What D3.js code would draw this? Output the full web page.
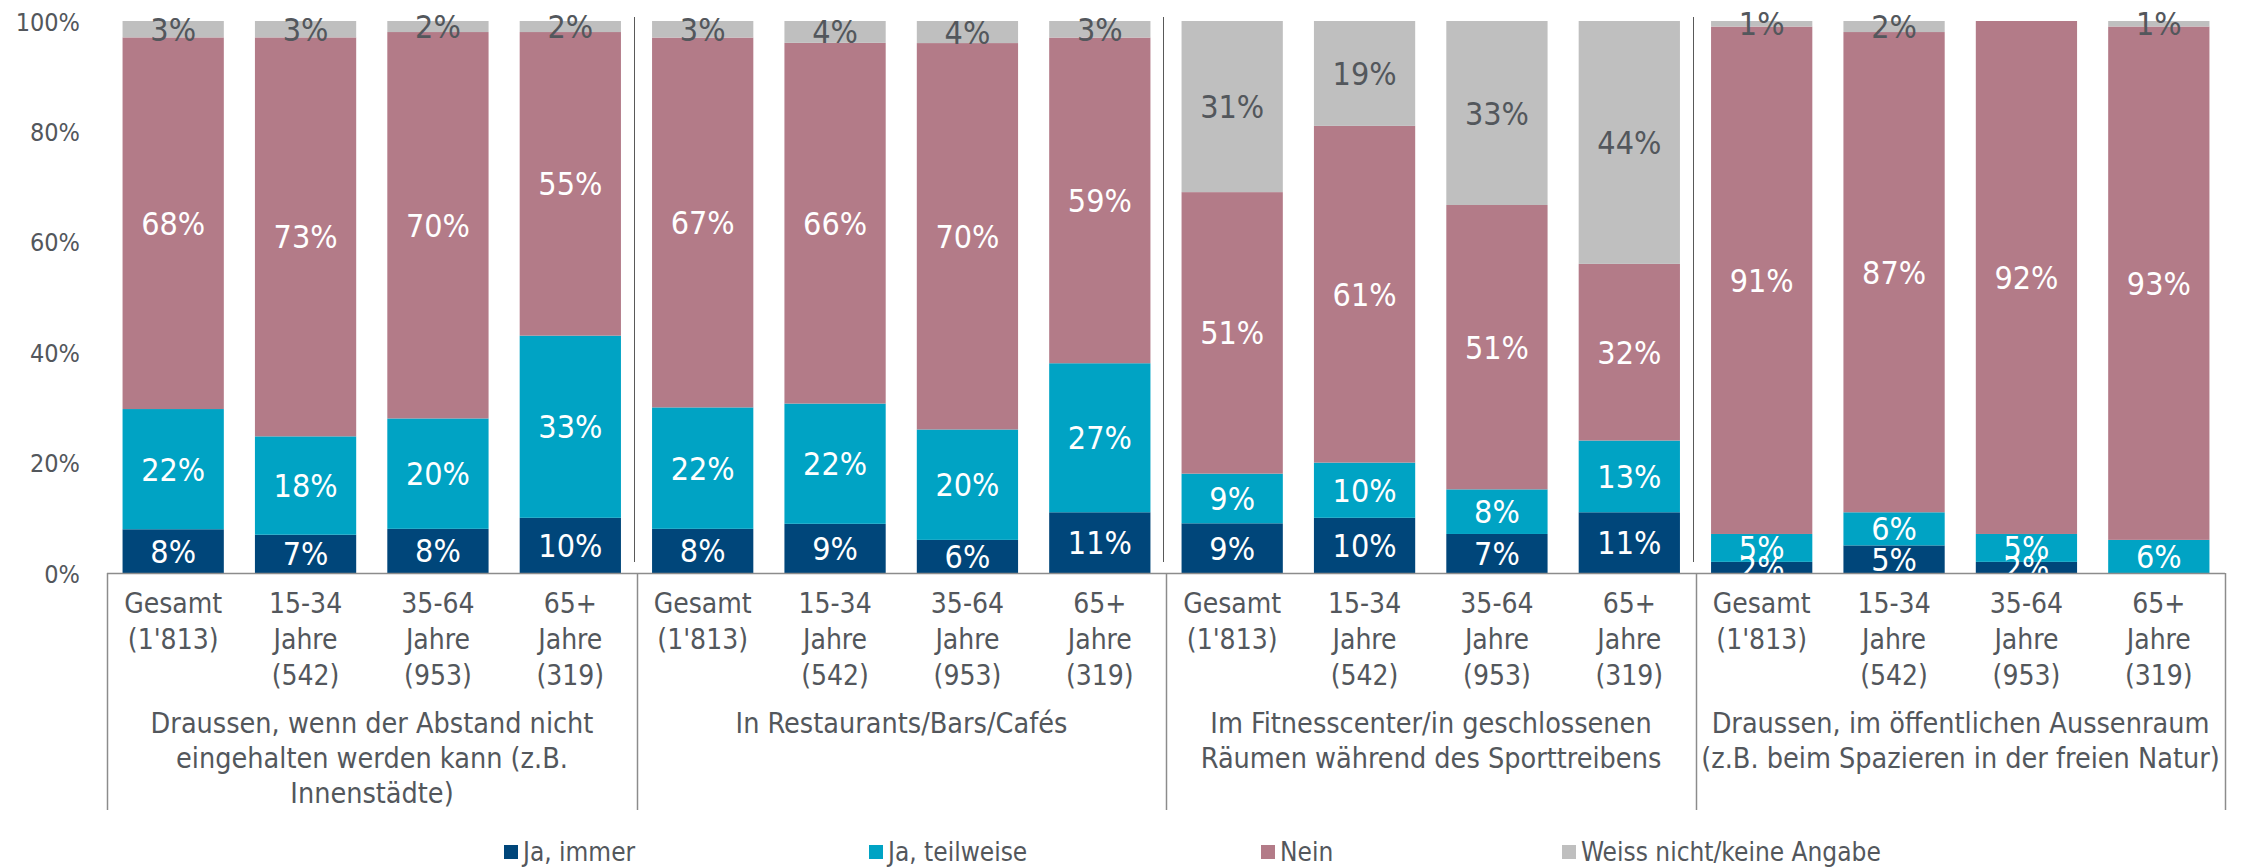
<!DOCTYPE html>
<html>
<head>
<meta charset="utf-8">
<script src="https://cdn.jsdelivr.net/npm/d3@7"></script>
<style>
	body { margin: 0; background: #fff; }
	svg text { font-family: "DejaVu Sans Condensed", "DejaVu Sans", sans-serif; font-stretch: condensed; }
</style>
</head>
<body>
<div id="plot"></div>
<script>
// values (100% stacked, per age group)
var seriesNames = ["Ja, immer", "Ja, teilweise", "Nein", "Weiss nicht/keine Angabe"];
var ageLabels = [["Gesamt", "(1'813)"], ["15-34", "Jahre", "(542)"], ["35-64", "Jahre", "(953)"], ["65+", "Jahre", "(319)"]];
var groupTitles = [
	["Draussen, wenn der Abstand nicht", "eingehalten werden kann (z.B.", "Innenstädte)"],
	["In Restaurants/Bars/Cafés"],
	["Im Fitnesscenter/in geschlossenen", "Räumen während des Sporttreibens"],
	["Draussen, im öffentlichen Aussenraum", "(z.B. beim Spazieren in der freien Natur)"]
];
var jaImmer     = [8, 7, 8, 10,   8, 9, 6, 11,   9, 10, 7, 11,   2, 5, 2, 0];
var jaTeilweise = [22, 18, 20, 33, 22, 22, 20, 27, 9, 10, 8, 13,  5, 6, 5, 6];
var nein        = [68, 73, 70, 55, 67, 66, 70, 59, 51, 61, 51, 32, 91, 87, 92, 93];
var weissNicht  = [3, 3, 2, 2,    3, 4, 4, 3,    31, 19, 33, 44,  1, 2, 0, 1];
var yTicks = [0, 20, 40, 60, 80, 100];

var colors = ["#00467a", "#00a3c4", "#b37b88", "#bfbfbf"];
var labelColors = ["#fff", "#fff", "#fff", "#53575c"];
var textGrey = "#53575c";

var W = 2248, H = 867;
var mLeft = 107, mRight = 2225, mTop = 21, mBottom = 573;

var rows = jaImmer.map(function(d, i){
	return {key: i, g: Math.floor(i / 4), a: i % 4,
		s0: jaImmer[i], s1: jaTeilweise[i], s2: nein[i], s3: weissNicht[i]};
});

var svg = d3.select("#plot").append("svg")
	.attr("width", W)
	.attr("height", H);

var x = d3.scaleBand()
	.domain(rows.map(function(d){return d.key;}))
	.range([mLeft, mRight])
	.paddingInner(0.235)
	.paddingOuter(0.1175);

var y = d3.scaleLinear().domain([0, 1]).range([mBottom, mTop]);

var stack = d3.stack()
	.keys(["s0", "s1", "s2", "s3"])
	.offset(d3.stackOffsetExpand);
var layers = stack(rows);

// y tick labels
var yAxis = d3.axisLeft(d3.scaleLinear().domain([0, 100]).range([mBottom, mTop]))
	.tickValues(yTicks)
	.tickSize(0)
	.tickPadding(0)
	.tickFormat(function(d){return d + "%";});
var ya = svg.append("g").attr("transform", "translate(80,0)").call(yAxis);
ya.select(".domain").remove();
ya.selectAll("text")
	.style("font-size", "25px")
	.attr("fill", textGrey)
	.attr("dy", "0.36em");

// bars
var layer = svg.selectAll("g.layer").data(layers).enter().append("g")
	.attr("class", "layer")
	.attr("fill", function(d, i){return colors[i];});

layer.selectAll("rect").data(function(d){return d;}).enter().append("rect")
	.attr("x", function(d){return x(d.data.key);})
	.attr("width", x.bandwidth())
	.attr("y", function(d){return y(d[1]);})
	.attr("height", function(d){return y(d[0]) - y(d[1]);});

// value labels
layers.forEach(function(l, li){
	svg.append("g").selectAll("text")
		.data(l.filter(function(d){return d.data[l.key] > 0;}))
		.enter().append("text")
		.attr("x", function(d){return x(d.data.key) + x.bandwidth() / 2;})
		.attr("y", function(d){return (y(d[0]) + y(d[1])) / 2;})
		.attr("dy", "0.36em")
		.attr("text-anchor", "middle")
		.attr("fill", labelColors[li])
		.style("font-size", "32px")
		.text(function(d){return d.data[l.key] + "%";});
});

// separators inside the plot
var step = x.step();
var groupEdge = function(g){return Math.round(mLeft + g * 4 * step);};
[1, 2, 3].forEach(function(g){
	svg.append("line")
		.attr("x1", groupEdge(g) - 2.5).attr("x2", groupEdge(g) - 2.5)
		.attr("y1", 17).attr("y2", 562)
		.style("stroke", "#595959");
});

// category axis
svg.append("line")
	.attr("x1", mLeft).attr("x2", mRight)
	.attr("y1", mBottom + 0.5).attr("y2", mBottom + 0.5)
	.style("stroke", "#8c8c8c")
	.style("stroke-width", 1.5);

[0, 1, 2, 3, 4].forEach(function(g){
	svg.append("line")
		.attr("x1", groupEdge(g) + 0.5).attr("x2", groupEdge(g) + 0.5)
		.attr("y1", mBottom).attr("y2", 810)
		.style("stroke", "#8c8c8c")
		.style("stroke-width", 1.5);
});

rows.forEach(function(d){
	var t = svg.append("text")
		.attr("text-anchor", "middle")
		.attr("fill", textGrey)
		.style("font-size", "28px");
	ageLabels[d.a].forEach(function(line, i){
		t.append("tspan")
			.attr("x", x(d.key) + x.bandwidth() / 2)
			.attr("y", 603 + i * 36)
			.attr("dy", "0.36em")
			.text(line);
	});
});

groupTitles.forEach(function(lines, g){
	var cx = (groupEdge(g) + groupEdge(g + 1)) / 2;
	var t = svg.append("text")
		.attr("text-anchor", "middle")
		.attr("fill", textGrey)
		.style("font-size", "28.5px");
	lines.forEach(function(line, i){
		t.append("tspan")
			.attr("x", cx)
			.attr("y", 723 + i * 35)
			.attr("dy", "0.36em")
			.text(line);
	});
});

// legend
var legendX = [504, 869, 1261, 1562];
var legend = svg.selectAll("g.legend").data(seriesNames).enter().append("g")
	.attr("class", "legend")
	.attr("transform", function(d, i){return "translate(" + legendX[i] + ",852)";});
legend.append("rect")
	.attr("x", 0).attr("y", -7)
	.attr("width", 14).attr("height", 14)
	.attr("fill", function(d, i){return colors[i];});
legend.append("text")
	.attr("x", 19)
	.attr("dy", "0.36em")
	.attr("fill", textGrey)
	.style("font-size", "26px")
	.text(function(d){return d;});
</script>
</body>
</html>
